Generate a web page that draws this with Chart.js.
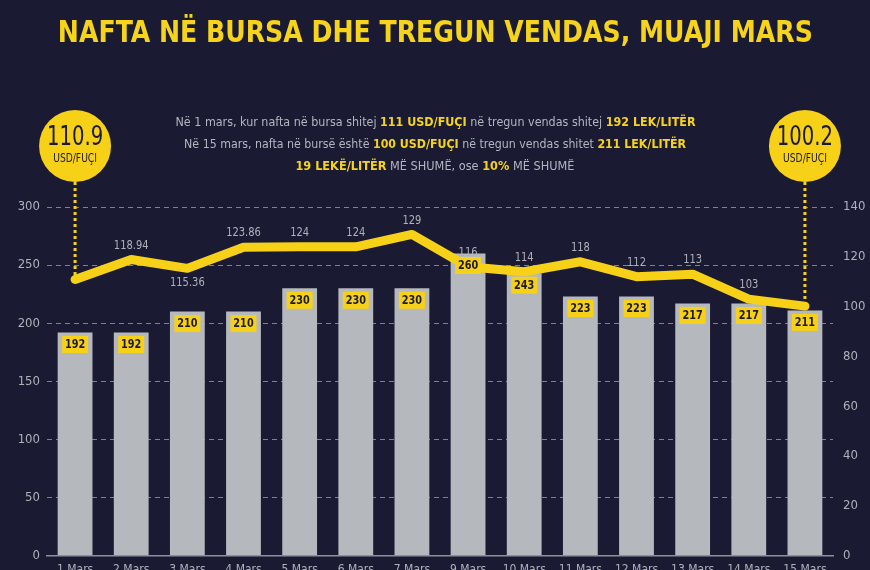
<!DOCTYPE html>
<html>
<head>
<meta charset="utf-8">
<script src="https://cdn.jsdelivr.net/npm/chart.js@4.4.1/dist/chart.umd.min.js"></script>
<style>
  html, body { margin: 0; padding: 0; background: #1b1a33; overflow: hidden; }
  #wrap { position: relative; width: 870px; height: 570px; overflow: hidden; }
  #chart-box { position: absolute; left: 0; top: 0; width: 870px; height: 592px; }
  .fit { position: absolute; left: 0; width: 870px; text-align: center; white-space: nowrap;
         font-family: 'DejaVu Sans Condensed', 'Liberation Sans Narrow', sans-serif; }
  .fit span.inner { display: inline-block; transform-origin: center center; }
  #title { top: 14px; font-size: 30px; font-weight: bold; color: #f6d41c; }
  .sub { font-size: 13px; color: #b3b6bf; }
  .sub b { color: #f6d41c; }
</style>
</head>
<body>
<div id="wrap">
  <div id="chart-box"><canvas id="c"></canvas></div>
  <div class="fit" id="title" data-w="755"><span class="inner">NAFTA NË BURSA DHE TREGUN VENDAS, MUAJI MARS</span></div>
  <div class="fit sub" style="top:114px" data-w="520"><span class="inner">Në 1 mars, kur nafta në bursa shitej <b>111 USD/FUÇI</b> në tregun vendas shitej <b>192 LEK/LITËR</b></span></div>
  <div class="fit sub" style="top:136px" data-w="502"><span class="inner">Në 15 mars, nafta në bursë është <b>100 USD/FUÇI</b> në tregun vendas shitet <b>211 LEK/LITËR</b></span></div>
  <div class="fit sub" style="top:158px" data-w="279"><span class="inner"><b>19 LEKË/LITËR</b> MË SHUMË, ose <b>10%</b> MË SHUMË</span></div>
</div>
<script>
// Nafta: çmimi në tregun vendas (LEK/litër) dhe në bursë (USD/fuçi)
const days = ['1 Mars', '2 Mars', '3 Mars', '4 Mars', '5 Mars', '6 Mars', '7 Mars',
              '9 Mars', '10 Mars', '11 Mars', '12 Mars', '13 Mars', '14 Mars', '15 Mars'];
const pumpPrice = [192, 192, 210, 210, 230, 230, 230, 260, 243, 223, 223, 217, 217, 211];
const brentPrice = [110.9, 118.94, 115.36, 123.86, 124, 124, 129, 116, 114, 118, 112, 113, 103, 100.2];
const leftTicks = [0, 50, 100, 150, 200, 250, 300];
const rightTicks = [0, 20, 40, 60, 80, 100, 120, 140];
const bubbleUnit = 'USD/FUÇI';

const YELLOW = '#f7d117';
const NAVY = '#1b1a33';
const GREY_TXT = '#aeb1ba';
const FONT = "'DejaVu Sans Condensed', 'Liberation Sans Narrow', sans-serif";

// fit the HTML lines to the width they have in the original
document.querySelectorAll('.fit').forEach(el => {
  const inner = el.querySelector('.inner');
  const w = inner.getBoundingClientRect().width;
  inner.style.transform = 'scaleX(' + (parseFloat(el.dataset.w) / w) + ')';
});

// narrow text: draw squeezed horizontally around x
function squeezed(ctx, text, x, y, sx) {
  ctx.save();
  ctx.translate(x, y);
  ctx.scale(sx, 1);
  ctx.fillText(text, 0, 0);
  ctx.restore();
}

const labelsPlugin = {
  id: 'labelsPlugin',
  afterDatasetsDraw(chart) {
    const ctx = chart.ctx;
    const bars = chart.getDatasetMeta(0).data;
    const pts = chart.getDatasetMeta(1).data;
    ctx.save();
    ctx.textAlign = 'center';
    ctx.textBaseline = 'middle';

    // line values (the first and last go in the bubbles)
    ctx.font = '12px ' + FONT;
    ctx.fillStyle = GREY_TXT;
    pts.forEach((p, i) => {
      if (i === 0 || i === pts.length - 1) return;
      const below = i === 2;
      squeezed(ctx, String(brentPrice[i]), p.x, below ? p.y + 15 : p.y - 14, 0.92);
    });

    // bar values in yellow boxes
    ctx.font = 'bold 12px ' + FONT;
    bars.forEach((b, i) => {
      const cy = b.y + 12;
      ctx.fillStyle = YELLOW;
      ctx.fillRect(b.x - 13, cy - 8.5, 26, 17);
      ctx.fillStyle = NAVY;
      squeezed(ctx, String(pumpPrice[i]), b.x, cy + 0.5, 0.9);
    });

    // bubbles with dotted leaders
    [0, pts.length - 1].forEach(i => {
      const p = pts[i];
      const cy = 146, r = 36;
      ctx.strokeStyle = YELLOW;
      ctx.lineWidth = 3;
      ctx.setLineDash([3, 3]);
      ctx.beginPath();
      ctx.moveTo(p.x, cy + r);
      ctx.lineTo(p.x, p.y);
      ctx.stroke();
      ctx.setLineDash([]);
      ctx.fillStyle = YELLOW;
      ctx.beginPath();
      ctx.arc(p.x, cy, r, 0, Math.PI * 2);
      ctx.fill();
      ctx.fillStyle = NAVY;
      ctx.font = '26px ' + FONT;
      squeezed(ctx, String(brentPrice[i]), p.x, cy - 8, 0.84);
      ctx.font = '12px ' + FONT;
      squeezed(ctx, bubbleUnit, p.x, cy + 13, 0.85);
    });
    ctx.restore();
  }
};

new Chart(document.getElementById('c'), {
  data: {
    labels: days,
    datasets: [
      {
        type: 'bar',
        label: 'LEK/LITËR',
        data: pumpPrice,
        backgroundColor: '#b5b9bd',
        barPercentage: 0.62,
        categoryPercentage: 1,
        yAxisID: 'y',
        order: 2
      },
      {
        type: 'line',
        label: 'USD/FUÇI',
        data: brentPrice,
        borderColor: YELLOW,
        borderWidth: 9,
        borderCapStyle: 'round',
        borderJoinStyle: 'round',
        pointRadius: 0,
        tension: 0,
        fill: false,
        yAxisID: 'y1',
        order: 1
      }
    ]
  },
  options: {
    responsive: true, maintainAspectRatio: false, animation: false,
    layout: { padding: { top: 207, left: 0, right: 0, bottom: 8 } },
    plugins: { legend: { display: false }, tooltip: { enabled: false } },
    scales: {
      x: {
        offset: true,
        grid: { display: false, drawTicks: false },
        border: { display: true, color: '#8d8f9c', width: 1.5 },
        ticks: { color: GREY_TXT, font: { family: FONT, size: 12 }, padding: 7, maxRotation: 0, autoSkip: false }
      },
      y: {
        position: 'left', min: 0, max: 300,
        afterBuildTicks: s => { s.ticks = leftTicks.map(v => ({ value: v })); },
        afterFit: s => { s.width = 47; },
        grid: { color: 'rgba(170,172,185,0.7)', drawTicks: false, lineWidth: 1 },
        border: { display: false, dash: [5, 4] },
        ticks: { color: GREY_TXT, font: { family: FONT, size: 13 }, padding: 7 }
      },
      y1: {
        position: 'right', min: 0, max: 140,
        afterBuildTicks: s => { s.ticks = rightTicks.map(v => ({ value: v })); },
        afterFit: s => { s.width = 37; },
        grid: { display: false, drawTicks: false },
        border: { display: false },
        ticks: { color: GREY_TXT, font: { family: FONT, size: 13 }, padding: 10 }
      }
    }
  },
  plugins: [labelsPlugin]
});
</script>
</body>
</html>
